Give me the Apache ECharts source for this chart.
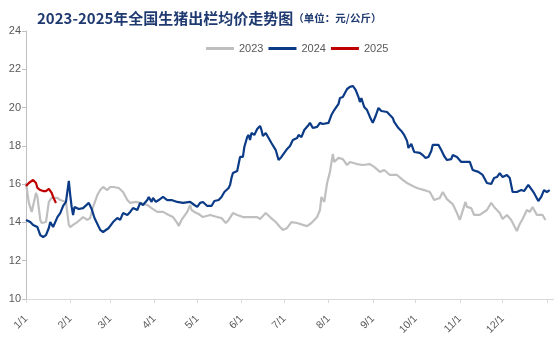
<!DOCTYPE html>
<html>
<head>
<meta charset="utf-8">
<script src="https://cdn.jsdelivr.net/npm/echarts@6/dist/echarts.min.js"></script>
<style>html,body{margin:0;padding:0;background:#fff}#c{width:554px;height:346px}</style>
</head>
<body>
<div id="c"></div>
<script>
// Day-of-year positions of month ticks and their labels
const tickDays = [0,31,59,90,120,151,181,212,243,273,304,334,365];
const tickLabels = ['1/1','2/1','3/1','4/1','5/1','6/1','7/1','8/1','9/1','10/1','11/1','12/1'];
const yTicks = [10,12,14,16,18,20,22,24];
const seriesNames = ['2023','2024','2025'];

// [day of year, price]
const d2023 = [[0,16.06],[2,15.02],[4,14.55],[7,15.54],[8,15.33],[10,14.13],[11,13.97],[14,14.02],[16,15.07],[18,15.28],[22,15.28],[24,15.17],[28,15.07],[30,13.87],[31,13.76],[33,13.87],[36,14.02],[40,14.28],[43,14.13],[45,14.23],[47,14.81],[50,15.43],[52,15.69],[54,15.85],[57,15.69],[59,15.85],[61,15.85],[62,15.75],[65,15.80],[68,15.59],[71,15.17],[73,15.02],[77,15.07],[80,15.02],[85,14.91],[88,14.75],[92,14.55],[96,14.55],[100,14.39],[103,14.28],[106,13.97],[107,13.81],[109,14.13],[113,14.55],[115,14.91],[116,14.65],[118,14.55],[121,14.44],[124,14.28],[129,14.39],[134,14.28],[137,14.23],[140,13.97],[142,14.13],[145,14.49],[148,14.39],[152,14.28],[157,14.28],[162,14.28],[164,14.18],[168,14.49],[171,14.28],[175,14.02],[178,13.76],[180,13.61],[183,13.71],[186,14.02],[190,13.97],[194,13.87],[197,13.81],[200,13.97],[204,14.28],[206,14.65],[207,15.33],[209,15.07],[211,16.06],[213,16.64],[215,17.58],[216,17.16],[219,17.37],[222,17.31],[225,17.00],[227,17.16],[232,17.05],[236,17.00],[241,17.05],[244,16.90],[248,16.64],[251,16.74],[255,16.48],[260,16.48],[264,16.22],[267,16.06],[271,15.90],[274,15.80],[279,15.69],[283,15.59],[286,15.17],[290,15.28],[292,15.59],[295,15.22],[299,14.96],[302,14.49],[304,14.13],[306,14.60],[308,15.07],[309,14.81],[312,14.75],[314,14.39],[318,14.39],[323,14.65],[326,15.02],[328,14.81],[332,14.49],[334,14.18],[337,14.39],[340,14.13],[344,13.55],[346,13.92],[348,14.18],[351,14.65],[353,14.55],[355,14.81],[358,14.39],[362,14.39],[364,14.13]];

const d2024 = [[0,14.13],[3,14.02],[5,13.87],[8,13.76],[10,13.34],[12,13.24],[14,13.34],[16,13.71],[17,14.02],[19,13.76],[22,14.28],[24,14.49],[26,14.86],[28,15.07],[30,16.17],[31,15.43],[32,14.81],[33,14.39],[34,14.81],[37,14.70],[40,14.75],[44,15.02],[46,14.70],[48,14.23],[52,13.61],[54,13.50],[58,13.71],[61,14.02],[64,14.23],[66,14.13],[68,14.49],[71,14.39],[73,14.55],[75,14.75],[78,14.65],[80,15.02],[82,14.91],[85,15.17],[86,15.33],[88,15.07],[89,15.28],[91,15.07],[93,15.17],[96,15.33],[99,15.17],[102,15.17],[106,15.07],[110,15.02],[115,15.07],[118,14.91],[120,14.81],[122,15.02],[124,15.07],[127,14.86],[130,14.86],[132,15.12],[135,15.17],[137,15.33],[139,15.59],[142,15.80],[143,15.96],[144,16.32],[145,16.58],[148,16.69],[149,17.05],[150,17.42],[151,17.52],[152,17.42],[153,17.94],[155,18.46],[156,18.57],[157,18.31],[158,18.67],[159,18.73],[160,18.57],[162,18.88],[164,19.04],[165,18.83],[166,18.52],[168,18.67],[170,18.41],[172,18.15],[173,18.20],[175,17.78],[177,17.26],[179,17.42],[180,17.52],[183,17.84],[185,17.99],[187,18.31],[190,18.41],[191,18.57],[192,18.67],[193,18.46],[195,18.83],[198,19.09],[199,19.20],[201,18.93],[204,18.99],[206,19.20],[208,19.14],[212,19.20],[214,19.61],[216,19.87],[219,20.19],[220,20.50],[222,20.55],[225,20.97],[227,21.08],[229,21.13],[231,20.92],[233,20.55],[234,20.29],[235,20.50],[237,20.03],[239,19.87],[241,19.51],[243,19.20],[245,19.56],[247,19.98],[249,19.82],[250,19.82],[253,19.77],[255,19.61],[257,19.46],[258,19.25],[261,18.93],[263,18.78],[265,18.57],[267,18.26],[268,17.89],[270,18.10],[272,17.68],[276,17.63],[278,17.52],[280,17.37],[282,17.42],[284,17.73],[285,18.05],[289,18.05],[291,17.78],[293,17.47],[295,17.26],[298,17.31],[299,17.52],[302,17.42],[305,17.16],[306,17.26],[309,17.16],[311,17.16],[313,16.74],[317,16.64],[320,16.48],[323,16.06],[326,16.01],[328,16.32],[330,16.37],[332,16.58],[334,16.37],[337,16.48],[339,16.32],[341,15.59],[344,15.59],[347,15.69],[349,15.64],[352,15.96],[354,15.75],[356,15.54],[359,15.12],[361,15.33],[363,15.69],[365,15.59],[367,15.69]];

const d2025 = [[0,15.90],[2,16.06],[3,16.11],[5,16.22],[7,16.06],[8,15.80],[10,15.69],[12,15.64],[14,15.64],[16,15.75],[18,15.54],[19,15.33],[21,15.02]];

const colors = ['#BFBFBF','#0B3A86','#C00000'];

const chart = echarts.init(document.getElementById('c'));
chart.setOption({
  animation: false,
  title: {
    left: 32, top: 6,
    text: '{a|2023-2025年全国生猪出栏均价走势图}{b|（单位：元/公斤）}',
    textStyle: {
      rich: {
        a: {fontFamily: '"Noto Sans CJK SC", sans-serif', fontWeight: 'bold', fontSize: 15, color: '#1F3A70'},
        b: {fontFamily: '"Noto Sans CJK SC", sans-serif', fontWeight: 'bold', fontSize: 10.5, color: '#1F3A70'}
      }
    }
  },
  legend: {
    left: 201, top: 38,
    icon: 'rect',
    itemWidth: 28, itemHeight: 3, itemGap: 5,
    textStyle: {color: '#595959', fontSize: 11, fontFamily: 'Arial, "Liberation Sans", sans-serif'},
    data: seriesNames
  },
  grid: {left: 26, right: 0, top: 31, bottom: 47, containLabel: false},
  xAxis: {
    type: 'value', min: 0, max: 370,
    axisLine: {show: true, lineStyle: {color: '#D9D9D9', width: 1}},
    axisTick: {show: true, customValues: tickDays, length: 4, lineStyle: {color: '#D9D9D9'}},
    axisLabel: {
      customValues: tickDays.slice(0, tickLabels.length),
      rotate: 45, margin: 18,
      color: '#595959', fontSize: 10.5, fontFamily: 'Arial, "Liberation Sans", sans-serif',
      formatter: function (v) { const i = tickDays.indexOf(v); return i >= 0 && i < tickLabels.length ? tickLabels[i] : ''; }
    },
    splitLine: {show: false}
  },
  yAxis: {
    type: 'value', min: 10, max: 24, interval: 2,
    axisLine: {show: true, lineStyle: {color: '#BFBFBF', width: 1}},
    axisTick: {show: true, length: 4, lineStyle: {color: '#BFBFBF'}},
    axisLabel: {color: '#595959', fontSize: 11, margin: 5, fontFamily: 'Arial, "Liberation Sans", sans-serif'},
    splitLine: {show: false}
  },
  series: [
    {name: seriesNames[0], type: 'line', data: d2023, symbol: 'none', lineStyle: {color: colors[0], width: 2.2}, itemStyle: {color: colors[0]}, z: 1},
    {name: seriesNames[1], type: 'line', data: d2024, symbol: 'none', lineStyle: {color: colors[1], width: 2.2}, itemStyle: {color: colors[1]}, z: 2},
    {name: seriesNames[2], type: 'line', data: d2025, symbol: 'none', lineStyle: {color: colors[2], width: 2.2}, itemStyle: {color: colors[2]}, z: 3}
  ]
});
</script>
</body>
</html>
